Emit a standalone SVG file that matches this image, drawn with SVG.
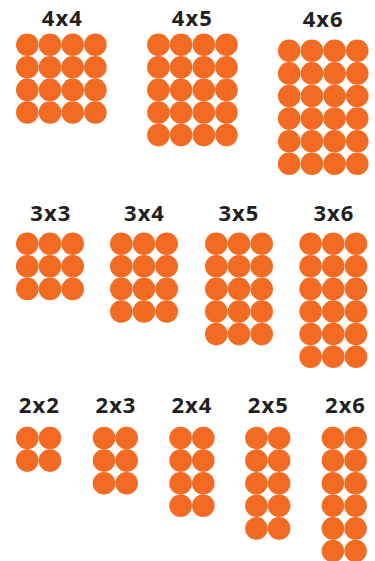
<svg xmlns="http://www.w3.org/2000/svg" xmlns:xlink="http://www.w3.org/1999/xlink" width="375" height="561" viewBox="0 0 375 561">
<style>
.lbl{font-family:"Open Sans","Noto Sans",sans-serif;font-weight:700;font-size:22px;letter-spacing:1px;fill:#231f20;text-anchor:middle}
.dot{fill:#f36a23}
</style>
<defs>
<g id="r2"><circle class="dot" cx="0" cy="0" r="11.3"/><circle class="dot" cx="22.7" cy="0" r="11.3"/></g>
<g id="r3"><use href="#r2"/><circle class="dot" cx="45.4" cy="0" r="11.3"/></g>
<g id="r4"><use href="#r3"/><circle class="dot" cx="68.1" cy="0" r="11.3"/></g>
</defs>
<rect width="375" height="561" fill="#ffffff"/>
<g id="n4x4">
<text class="lbl" x="62.3" y="25.5">4x4</text>
<g transform="translate(27.3,44.7)"><use href="#r4"/><use href="#r4" y="22.6"/><use href="#r4" y="45.2"/><use href="#r4" y="67.8"/></g>
</g>
<g id="n4x5">
<text class="lbl" x="192.3" y="25.5">4x5</text>
<g transform="translate(158.4,44.7)"><use href="#r4"/><use href="#r4" y="22.6"/><use href="#r4" y="45.2"/><use href="#r4" y="67.8"/><use href="#r4" y="90.4"/></g>
</g>
<g id="n4x6">
<text class="lbl" x="323.1" y="26.7">4x6</text>
<g transform="translate(289.2,50.8)"><use href="#r4"/><use href="#r4" y="22.6"/><use href="#r4" y="45.2"/><use href="#r4" y="67.8"/><use href="#r4" y="90.4"/><use href="#r4" y="113"/></g>
</g>
<g id="n3x3">
<text class="lbl" x="50.8" y="221">3x3</text>
<g transform="translate(27.3,243.7)"><use href="#r3"/><use href="#r3" y="22.6"/><use href="#r3" y="45.2"/></g>
</g>
<g id="n3x4">
<text class="lbl" x="144.5" y="221">3x4</text>
<g transform="translate(121.3,243.7)"><use href="#r3"/><use href="#r3" y="22.6"/><use href="#r3" y="45.2"/><use href="#r3" y="67.8"/></g>
</g>
<g id="n3x5">
<text class="lbl" x="238.9" y="221">3x5</text>
<g transform="translate(216.3,243.7)"><use href="#r3"/><use href="#r3" y="22.6"/><use href="#r3" y="45.2"/><use href="#r3" y="67.8"/><use href="#r3" y="90.4"/></g>
</g>
<g id="n3x6">
<text class="lbl" x="333.9" y="221">3x6</text>
<g transform="translate(310.6,243.7)"><use href="#r3"/><use href="#r3" y="22.6"/><use href="#r3" y="45.2"/><use href="#r3" y="67.8"/><use href="#r3" y="90.4"/><use href="#r3" y="113"/></g>
</g>
<g id="n2x2">
<text class="lbl" x="39.3" y="413.3">2x2</text>
<g transform="translate(27.3,438)"><use href="#r2"/><use href="#r2" y="22.6"/></g>
</g>
<g id="n2x3">
<text class="lbl" x="116" y="413.3">2x3</text>
<g transform="translate(104,438)"><use href="#r2"/><use href="#r2" y="22.6"/><use href="#r2" y="45.2"/></g>
</g>
<g id="n2x4">
<text class="lbl" x="191.9" y="413.3">2x4</text>
<g transform="translate(180.6,438)"><use href="#r2"/><use href="#r2" y="22.6"/><use href="#r2" y="45.2"/><use href="#r2" y="67.8"/></g>
</g>
<g id="n2x5">
<text class="lbl" x="268.3" y="413.3">2x5</text>
<g transform="translate(256.4,438)"><use href="#r2"/><use href="#r2" y="22.6"/><use href="#r2" y="45.2"/><use href="#r2" y="67.8"/><use href="#r2" y="90.4"/></g>
</g>
<g id="n2x6">
<text class="lbl" x="345.5" y="413.3">2x6</text>
<g transform="translate(332.9,438)"><use href="#r2"/><use href="#r2" y="22.6"/><use href="#r2" y="45.2"/><use href="#r2" y="67.8"/><use href="#r2" y="90.4"/><use href="#r2" y="113"/></g>
</g>
</svg>
